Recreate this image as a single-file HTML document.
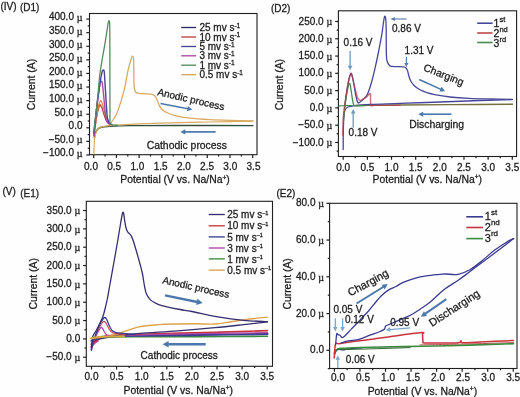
<!DOCTYPE html>
<html><head><meta charset="utf-8"><style>
html,body{margin:0;padding:0;background:#fff;}
body{width:520px;height:397px;overflow:hidden;}
svg{display:block;filter:blur(0.3px);}
text{font-family:"Liberation Sans", sans-serif;stroke:#1c1c1c;stroke-width:0.28px;}
</style></head><body>
<svg width="520" height="397" viewBox="0 0 520 397">
<rect width="520" height="397" fill="#fefefe"/>
<text x="0" y="0" font-size="10.00" text-anchor="start" fill="#1c1c1c" transform="translate(0.50 10.00)">(IV)</text>
<text x="0" y="0" font-size="10.00" text-anchor="start" fill="#1c1c1c" transform="translate(20.00 11.10)">(D1)</text>
<rect x="89.50" y="13.50" width="167.50" height="141.20" fill="none" stroke="#1e1e1e" stroke-width="1.1"/>
<line x1="86.30" y1="154.98" x2="89.50" y2="154.98" stroke="#1e1e1e" stroke-width="1.20"/>
<line x1="86.30" y1="141.39" x2="89.50" y2="141.39" stroke="#1e1e1e" stroke-width="1.20"/>
<line x1="86.30" y1="127.80" x2="89.50" y2="127.80" stroke="#1e1e1e" stroke-width="1.20"/>
<line x1="86.30" y1="114.21" x2="89.50" y2="114.21" stroke="#1e1e1e" stroke-width="1.20"/>
<line x1="86.30" y1="100.62" x2="89.50" y2="100.62" stroke="#1e1e1e" stroke-width="1.20"/>
<line x1="86.30" y1="87.03" x2="89.50" y2="87.03" stroke="#1e1e1e" stroke-width="1.20"/>
<line x1="86.30" y1="73.44" x2="89.50" y2="73.44" stroke="#1e1e1e" stroke-width="1.20"/>
<line x1="86.30" y1="59.85" x2="89.50" y2="59.85" stroke="#1e1e1e" stroke-width="1.20"/>
<line x1="86.30" y1="46.26" x2="89.50" y2="46.26" stroke="#1e1e1e" stroke-width="1.20"/>
<line x1="86.30" y1="32.67" x2="89.50" y2="32.67" stroke="#1e1e1e" stroke-width="1.20"/>
<line x1="86.30" y1="19.08" x2="89.50" y2="19.08" stroke="#1e1e1e" stroke-width="1.20"/>
<line x1="87.70" y1="148.19" x2="89.50" y2="148.19" stroke="#1e1e1e" stroke-width="1.20"/>
<line x1="87.70" y1="134.59" x2="89.50" y2="134.59" stroke="#1e1e1e" stroke-width="1.20"/>
<line x1="87.70" y1="121.00" x2="89.50" y2="121.00" stroke="#1e1e1e" stroke-width="1.20"/>
<line x1="87.70" y1="107.41" x2="89.50" y2="107.41" stroke="#1e1e1e" stroke-width="1.20"/>
<line x1="87.70" y1="93.82" x2="89.50" y2="93.82" stroke="#1e1e1e" stroke-width="1.20"/>
<line x1="87.70" y1="80.23" x2="89.50" y2="80.23" stroke="#1e1e1e" stroke-width="1.20"/>
<line x1="87.70" y1="66.65" x2="89.50" y2="66.65" stroke="#1e1e1e" stroke-width="1.20"/>
<line x1="87.70" y1="53.06" x2="89.50" y2="53.06" stroke="#1e1e1e" stroke-width="1.20"/>
<line x1="87.70" y1="39.47" x2="89.50" y2="39.47" stroke="#1e1e1e" stroke-width="1.20"/>
<line x1="87.70" y1="25.88" x2="89.50" y2="25.88" stroke="#1e1e1e" stroke-width="1.20"/>
<line x1="93.70" y1="154.70" x2="93.70" y2="157.90" stroke="#1e1e1e" stroke-width="1.20"/>
<line x1="116.42" y1="154.70" x2="116.42" y2="157.90" stroke="#1e1e1e" stroke-width="1.20"/>
<line x1="139.13" y1="154.70" x2="139.13" y2="157.90" stroke="#1e1e1e" stroke-width="1.20"/>
<line x1="161.84" y1="154.70" x2="161.84" y2="157.90" stroke="#1e1e1e" stroke-width="1.20"/>
<line x1="184.56" y1="154.70" x2="184.56" y2="157.90" stroke="#1e1e1e" stroke-width="1.20"/>
<line x1="207.28" y1="154.70" x2="207.28" y2="157.90" stroke="#1e1e1e" stroke-width="1.20"/>
<line x1="229.99" y1="154.70" x2="229.99" y2="157.90" stroke="#1e1e1e" stroke-width="1.20"/>
<line x1="252.70" y1="154.70" x2="252.70" y2="157.90" stroke="#1e1e1e" stroke-width="1.20"/>
<line x1="105.06" y1="154.70" x2="105.06" y2="156.50" stroke="#1e1e1e" stroke-width="1.20"/>
<line x1="127.77" y1="154.70" x2="127.77" y2="156.50" stroke="#1e1e1e" stroke-width="1.20"/>
<line x1="150.49" y1="154.70" x2="150.49" y2="156.50" stroke="#1e1e1e" stroke-width="1.20"/>
<line x1="173.20" y1="154.70" x2="173.20" y2="156.50" stroke="#1e1e1e" stroke-width="1.20"/>
<line x1="195.92" y1="154.70" x2="195.92" y2="156.50" stroke="#1e1e1e" stroke-width="1.20"/>
<line x1="218.63" y1="154.70" x2="218.63" y2="156.50" stroke="#1e1e1e" stroke-width="1.20"/>
<line x1="241.35" y1="154.70" x2="241.35" y2="156.50" stroke="#1e1e1e" stroke-width="1.20"/>
<text x="0" y="0" font-size="10.00" text-anchor="end" fill="#1c1c1c" transform="translate(82.50 156.38)">−100.0 <tspan font-family="Liberation Serif, serif" dy="0.7">µ</tspan></text>
<text x="0" y="0" font-size="10.00" text-anchor="end" fill="#1c1c1c" transform="translate(82.50 142.79)">−50.0 <tspan font-family="Liberation Serif, serif" dy="0.7">µ</tspan></text>
<text x="0" y="0" font-size="10.00" text-anchor="end" fill="#1c1c1c" transform="translate(82.50 129.20)">0.0</text>
<text x="0" y="0" font-size="10.00" text-anchor="end" fill="#1c1c1c" transform="translate(82.50 115.61)">50.0 <tspan font-family="Liberation Serif, serif" dy="0.7">µ</tspan></text>
<text x="0" y="0" font-size="10.00" text-anchor="end" fill="#1c1c1c" transform="translate(82.50 102.02)">100.0 <tspan font-family="Liberation Serif, serif" dy="0.7">µ</tspan></text>
<text x="0" y="0" font-size="10.00" text-anchor="end" fill="#1c1c1c" transform="translate(82.50 88.43)">150.0 <tspan font-family="Liberation Serif, serif" dy="0.7">µ</tspan></text>
<text x="0" y="0" font-size="10.00" text-anchor="end" fill="#1c1c1c" transform="translate(82.50 74.84)">200.0 <tspan font-family="Liberation Serif, serif" dy="0.7">µ</tspan></text>
<text x="0" y="0" font-size="10.00" text-anchor="end" fill="#1c1c1c" transform="translate(82.50 61.25)">250.0 <tspan font-family="Liberation Serif, serif" dy="0.7">µ</tspan></text>
<text x="0" y="0" font-size="10.00" text-anchor="end" fill="#1c1c1c" transform="translate(82.50 47.66)">300.0 <tspan font-family="Liberation Serif, serif" dy="0.7">µ</tspan></text>
<text x="0" y="0" font-size="10.00" text-anchor="end" fill="#1c1c1c" transform="translate(82.50 34.07)">350.0 <tspan font-family="Liberation Serif, serif" dy="0.7">µ</tspan></text>
<text x="0" y="0" font-size="10.00" text-anchor="end" fill="#1c1c1c" transform="translate(82.50 20.48)">400.0 <tspan font-family="Liberation Serif, serif" dy="0.7">µ</tspan></text>
<text x="0" y="0" font-size="10.00" text-anchor="middle" fill="#1c1c1c" transform="translate(91.00 170.20)">0.0</text>
<text x="0" y="0" font-size="10.00" text-anchor="middle" fill="#1c1c1c" transform="translate(114.22 170.20)">0.5</text>
<text x="0" y="0" font-size="10.00" text-anchor="middle" fill="#1c1c1c" transform="translate(137.43 170.20)">1.0</text>
<text x="0" y="0" font-size="10.00" text-anchor="middle" fill="#1c1c1c" transform="translate(160.64 170.20)">1.5</text>
<text x="0" y="0" font-size="10.00" text-anchor="middle" fill="#1c1c1c" transform="translate(183.86 170.20)">2.0</text>
<text x="0" y="0" font-size="10.00" text-anchor="middle" fill="#1c1c1c" transform="translate(207.07 170.20)">2.5</text>
<text x="0" y="0" font-size="10.00" text-anchor="middle" fill="#1c1c1c" transform="translate(230.29 170.20)">3.0</text>
<text x="0" y="0" font-size="10.00" text-anchor="middle" fill="#1c1c1c" transform="translate(253.50 170.20)">3.5</text>
<text x="0" y="0" font-size="10.40" text-anchor="middle" fill="#1c1c1c" transform="translate(175.00 183.00)">Potential (V vs. Na/Na<tspan font-size="6.5" dy="-3.5">+</tspan><tspan dy="3.5">)</tspan></text>
<text x="0" y="0" font-size="10.40" text-anchor="middle" fill="#1c1c1c" transform="translate(35.30 84.60) rotate(-90.00)">Current (A)</text>
<path d="M253.00,125.60 C240.83,125.58 200.50,125.50 180.00,125.50 C159.50,125.50 141.67,125.48 130.00,125.60 C118.33,125.72 114.83,125.92 110.00,126.20 C105.17,126.48 103.08,126.75 101.00,127.30 C98.92,127.85 98.42,128.55 97.50,129.50 C96.58,130.45 96.03,131.58 95.50,133.00 C94.97,134.42 94.50,137.17 94.30,138.00" fill="none" stroke="#2f4f3c" stroke-width="1.40" stroke-linejoin="round" stroke-linecap="round" opacity="1.00"/>
<path d="M111.00,122.50 C111.50,121.83 112.83,120.52 114.00,118.50 C115.17,116.48 116.32,115.10 118.00,110.40 C119.68,105.70 122.42,97.02 124.10,90.30 C125.78,83.58 126.90,75.40 128.10,70.10 C129.30,64.80 130.55,60.82 131.30,58.50 C132.05,56.18 132.23,56.20 132.60,56.20 C132.97,56.20 133.30,56.87 133.50,58.50 C133.70,60.13 133.73,62.42 133.80,66.00 C133.87,69.58 133.82,76.33 133.90,80.00 C133.98,83.67 134.02,86.00 134.30,88.00 C134.58,90.00 134.90,91.10 135.60,92.00 C136.30,92.90 136.77,93.10 138.50,93.40 C140.23,93.70 143.75,93.65 146.00,93.80 C148.25,93.95 150.50,93.93 152.00,94.30 C153.50,94.67 154.12,95.00 155.00,96.00 C155.88,97.00 156.58,98.73 157.30,100.30 C158.02,101.87 158.52,103.87 159.30,105.40 C160.08,106.93 160.82,108.33 162.00,109.50 C163.18,110.67 164.23,111.38 166.40,112.40 C168.57,113.42 171.07,114.63 175.00,115.60 C178.93,116.57 184.17,117.52 190.00,118.20 C195.83,118.88 203.33,119.33 210.00,119.70 C216.67,120.07 222.83,120.22 230.00,120.40 C237.17,120.58 249.17,120.73 253.00,120.80" fill="none" stroke="#d9aa60" stroke-width="1.30" stroke-linejoin="round" stroke-linecap="round" opacity="1.00"/>
<path d="M253.00,121.20 C249.17,121.27 238.83,121.43 230.00,121.60 C221.17,121.77 210.00,122.00 200.00,122.20 C190.00,122.40 178.33,122.58 170.00,122.80 C161.67,123.02 157.50,123.20 150.00,123.50 C142.50,123.80 131.33,124.28 125.00,124.60 C118.67,124.92 115.50,125.12 112.00,125.40 C108.50,125.68 106.17,125.87 104.00,126.30 C101.83,126.73 100.30,127.05 99.00,128.00 C97.70,128.95 96.93,130.33 96.20,132.00 C95.47,133.67 94.95,135.67 94.60,138.00 C94.25,140.33 94.22,143.33 94.10,146.00 C93.98,148.67 93.93,152.67 93.90,154.00" fill="none" stroke="#d9aa60" stroke-width="1.20" stroke-linejoin="round" stroke-linecap="round" opacity="1.00"/>
<path d="M94.00,135.00 C94.25,133.17 94.92,127.83 95.50,124.00 C96.08,120.17 96.82,115.08 97.50,112.00 C98.18,108.92 99.08,106.63 99.60,105.50 C100.12,104.37 100.20,104.78 100.60,105.20 C101.00,105.62 101.43,106.45 102.00,108.00 C102.57,109.55 103.33,112.50 104.00,114.50 C104.67,116.50 105.33,118.58 106.00,120.00 C106.67,121.42 107.33,122.25 108.00,123.00 C108.67,123.75 109.67,124.25 110.00,124.50" fill="none" stroke="#c04448" stroke-width="1.40" stroke-linejoin="round" stroke-linecap="round" opacity="1.00"/>
<path d="M94.30,132.00 C94.58,130.17 95.30,125.33 96.00,121.00 C96.70,116.67 97.78,109.33 98.50,106.00 C99.22,102.67 99.80,101.75 100.30,101.00 C100.80,100.25 101.05,100.67 101.50,101.50 C101.95,102.33 102.42,104.00 103.00,106.00 C103.58,108.00 104.33,111.25 105.00,113.50 C105.67,115.75 106.25,117.83 107.00,119.50 C107.75,121.17 109.08,122.83 109.50,123.50" fill="none" stroke="#da824a" stroke-width="1.20" stroke-linejoin="round" stroke-linecap="round" opacity="1.00"/>
<path d="M93.90,136.00 C94.17,133.33 94.90,125.67 95.50,120.00 C96.10,114.33 96.78,107.83 97.50,102.00 C98.22,96.17 99.20,88.45 99.80,85.00 C100.40,81.55 100.67,81.47 101.10,81.30 C101.53,81.13 101.90,80.85 102.40,84.00 C102.90,87.15 103.57,94.87 104.10,100.20 C104.63,105.53 105.12,112.50 105.60,116.00 C106.08,119.50 106.48,120.00 107.00,121.20 C107.52,122.40 108.12,122.73 108.70,123.20 C109.28,123.67 110.20,123.87 110.50,124.00" fill="none" stroke="#ad48a0" stroke-width="1.40" stroke-linejoin="round" stroke-linecap="round" opacity="1.00"/>
<path d="M93.90,133.00 C94.22,130.00 95.12,121.00 95.80,115.00 C96.48,109.00 97.22,102.83 98.00,97.00 C98.78,91.17 99.80,84.25 100.50,80.00 C101.20,75.75 101.73,73.13 102.20,71.50 C102.67,69.87 102.95,70.03 103.30,70.20 C103.65,70.37 103.92,68.75 104.30,72.50 C104.68,76.25 105.13,85.55 105.60,92.70 C106.07,99.85 106.65,110.72 107.10,115.40 C107.55,120.08 107.88,119.43 108.30,120.80 C108.72,122.17 108.98,122.97 109.60,123.60 C110.22,124.23 111.60,124.43 112.00,124.60" fill="none" stroke="#45459a" stroke-width="1.40" stroke-linejoin="round" stroke-linecap="round" opacity="1.00"/>
<path d="M93.90,131.00 C94.17,128.83 94.85,123.83 95.50,118.00 C96.15,112.17 97.07,103.33 97.80,96.00 C98.53,88.67 99.13,80.33 99.90,74.00 C100.67,67.67 101.57,62.97 102.40,58.00 C103.23,53.03 104.08,49.12 104.90,44.20 C105.72,39.28 106.70,32.28 107.30,28.50 C107.90,24.72 108.17,22.75 108.50,21.50 C108.83,20.25 109.10,20.58 109.30,21.00 C109.50,21.42 109.61,20.83 109.70,24.00 C109.79,27.17 109.82,37.33 109.85,40.00 L109.95,123.50 C110.29,123.73 110.66,124.60 112.00,124.90 C113.34,125.20 117.00,125.23 118.00,125.30" fill="none" stroke="#568c5c" stroke-width="1.30" stroke-linejoin="round" stroke-linecap="round" opacity="1.00"/>
<line x1="181.20" y1="27.50" x2="196.00" y2="27.50" stroke="#2f2b6b" stroke-width="1.35"/>
<text x="0" y="0" font-size="10.00" text-anchor="start" fill="#1c1c1c" transform="translate(199.40 31.10)">25 mv s<tspan font-size="6.5" dy="-3.6">-1</tspan></text>
<line x1="181.20" y1="37.00" x2="196.00" y2="37.00" stroke="#c04448" stroke-width="1.35"/>
<text x="0" y="0" font-size="10.00" text-anchor="start" fill="#1c1c1c" transform="translate(199.40 40.60)">10 mv s<tspan font-size="6.5" dy="-3.6">-1</tspan></text>
<line x1="181.20" y1="46.50" x2="196.00" y2="46.50" stroke="#45459a" stroke-width="1.35"/>
<text x="0" y="0" font-size="10.00" text-anchor="start" fill="#1c1c1c" transform="translate(199.40 50.10)">5 mv s<tspan font-size="6.5" dy="-3.6">-1</tspan></text>
<line x1="181.20" y1="55.80" x2="196.00" y2="55.80" stroke="#ad48a0" stroke-width="1.35"/>
<text x="0" y="0" font-size="10.00" text-anchor="start" fill="#1c1c1c" transform="translate(199.40 59.40)">3 mv s<tspan font-size="6.5" dy="-3.6">-1</tspan></text>
<line x1="181.20" y1="65.20" x2="196.00" y2="65.20" stroke="#568c5c" stroke-width="1.35"/>
<text x="0" y="0" font-size="10.00" text-anchor="start" fill="#1c1c1c" transform="translate(199.40 68.80)">1 mv s<tspan font-size="6.5" dy="-3.6">-1</tspan></text>
<line x1="181.20" y1="74.70" x2="196.00" y2="74.70" stroke="#d9aa60" stroke-width="1.35"/>
<text x="0" y="0" font-size="10.00" text-anchor="start" fill="#1c1c1c" transform="translate(199.40 78.30)">0.5 mv s<tspan font-size="6.5" dy="-3.6">-1</tspan></text>
<text x="0" y="0" font-size="10.00" text-anchor="start" fill="#1c1c1c" transform="translate(157.00 95.00) rotate(13.00)">Anodic process</text>
<line x1="160.50" y1="103.50" x2="187.88" y2="108.75" stroke="#4b77ad" stroke-width="1.70"/>
<polygon points="192.30,109.60 186.90,111.21 187.88,106.10" fill="#4b77ad"/>
<line x1="215.60" y1="131.90" x2="184.80" y2="131.90" stroke="#4b77ad" stroke-width="1.70"/>
<polygon points="180.30,131.90 185.30,129.30 185.30,134.50" fill="#4b77ad"/>
<text x="0" y="0" font-size="10.40" text-anchor="start" fill="#1c1c1c" transform="translate(146.70 149.30)">Cathodic process</text>
<text x="0" y="0" font-size="10.00" text-anchor="start" fill="#1c1c1c" transform="translate(271.00 11.50)">(D2)</text>
<rect x="338.40" y="10.80" width="178.20" height="145.70" fill="none" stroke="#1e1e1e" stroke-width="1.1"/>
<line x1="335.20" y1="142.46" x2="338.40" y2="142.46" stroke="#1e1e1e" stroke-width="1.20"/>
<line x1="335.20" y1="125.18" x2="338.40" y2="125.18" stroke="#1e1e1e" stroke-width="1.20"/>
<line x1="335.20" y1="107.90" x2="338.40" y2="107.90" stroke="#1e1e1e" stroke-width="1.20"/>
<line x1="335.20" y1="90.62" x2="338.40" y2="90.62" stroke="#1e1e1e" stroke-width="1.20"/>
<line x1="335.20" y1="73.34" x2="338.40" y2="73.34" stroke="#1e1e1e" stroke-width="1.20"/>
<line x1="335.20" y1="56.06" x2="338.40" y2="56.06" stroke="#1e1e1e" stroke-width="1.20"/>
<line x1="335.20" y1="38.78" x2="338.40" y2="38.78" stroke="#1e1e1e" stroke-width="1.20"/>
<line x1="335.20" y1="21.50" x2="338.40" y2="21.50" stroke="#1e1e1e" stroke-width="1.20"/>
<line x1="336.60" y1="151.10" x2="338.40" y2="151.10" stroke="#1e1e1e" stroke-width="1.20"/>
<line x1="336.60" y1="133.82" x2="338.40" y2="133.82" stroke="#1e1e1e" stroke-width="1.20"/>
<line x1="336.60" y1="116.54" x2="338.40" y2="116.54" stroke="#1e1e1e" stroke-width="1.20"/>
<line x1="336.60" y1="99.26" x2="338.40" y2="99.26" stroke="#1e1e1e" stroke-width="1.20"/>
<line x1="336.60" y1="81.98" x2="338.40" y2="81.98" stroke="#1e1e1e" stroke-width="1.20"/>
<line x1="336.60" y1="64.70" x2="338.40" y2="64.70" stroke="#1e1e1e" stroke-width="1.20"/>
<line x1="336.60" y1="47.42" x2="338.40" y2="47.42" stroke="#1e1e1e" stroke-width="1.20"/>
<line x1="336.60" y1="30.14" x2="338.40" y2="30.14" stroke="#1e1e1e" stroke-width="1.20"/>
<line x1="343.20" y1="156.50" x2="343.20" y2="159.70" stroke="#1e1e1e" stroke-width="1.20"/>
<line x1="367.36" y1="156.50" x2="367.36" y2="159.70" stroke="#1e1e1e" stroke-width="1.20"/>
<line x1="391.51" y1="156.50" x2="391.51" y2="159.70" stroke="#1e1e1e" stroke-width="1.20"/>
<line x1="415.66" y1="156.50" x2="415.66" y2="159.70" stroke="#1e1e1e" stroke-width="1.20"/>
<line x1="439.82" y1="156.50" x2="439.82" y2="159.70" stroke="#1e1e1e" stroke-width="1.20"/>
<line x1="463.98" y1="156.50" x2="463.98" y2="159.70" stroke="#1e1e1e" stroke-width="1.20"/>
<line x1="488.13" y1="156.50" x2="488.13" y2="159.70" stroke="#1e1e1e" stroke-width="1.20"/>
<line x1="512.28" y1="156.50" x2="512.28" y2="159.70" stroke="#1e1e1e" stroke-width="1.20"/>
<line x1="355.28" y1="156.50" x2="355.28" y2="158.30" stroke="#1e1e1e" stroke-width="1.20"/>
<line x1="379.43" y1="156.50" x2="379.43" y2="158.30" stroke="#1e1e1e" stroke-width="1.20"/>
<line x1="403.59" y1="156.50" x2="403.59" y2="158.30" stroke="#1e1e1e" stroke-width="1.20"/>
<line x1="427.74" y1="156.50" x2="427.74" y2="158.30" stroke="#1e1e1e" stroke-width="1.20"/>
<line x1="451.90" y1="156.50" x2="451.90" y2="158.30" stroke="#1e1e1e" stroke-width="1.20"/>
<line x1="476.05" y1="156.50" x2="476.05" y2="158.30" stroke="#1e1e1e" stroke-width="1.20"/>
<line x1="500.21" y1="156.50" x2="500.21" y2="158.30" stroke="#1e1e1e" stroke-width="1.20"/>
<text x="0" y="0" font-size="10.00" text-anchor="end" fill="#1c1c1c" transform="translate(332.20 145.56)">−100.0 <tspan font-family="Liberation Serif, serif" dy="0.7">µ</tspan></text>
<text x="0" y="0" font-size="10.00" text-anchor="end" fill="#1c1c1c" transform="translate(332.20 128.28)">−50.0 <tspan font-family="Liberation Serif, serif" dy="0.7">µ</tspan></text>
<text x="0" y="0" font-size="10.00" text-anchor="end" fill="#1c1c1c" transform="translate(332.20 111.00)">0.0 <tspan font-family="Liberation Serif, serif" dy="0.7">µ</tspan></text>
<text x="0" y="0" font-size="10.00" text-anchor="end" fill="#1c1c1c" transform="translate(332.20 93.72)">50.0 <tspan font-family="Liberation Serif, serif" dy="0.7">µ</tspan></text>
<text x="0" y="0" font-size="10.00" text-anchor="end" fill="#1c1c1c" transform="translate(332.20 76.44)">100.0 <tspan font-family="Liberation Serif, serif" dy="0.7">µ</tspan></text>
<text x="0" y="0" font-size="10.00" text-anchor="end" fill="#1c1c1c" transform="translate(332.20 59.16)">150.0 <tspan font-family="Liberation Serif, serif" dy="0.7">µ</tspan></text>
<text x="0" y="0" font-size="10.00" text-anchor="end" fill="#1c1c1c" transform="translate(332.20 41.88)">200.0 <tspan font-family="Liberation Serif, serif" dy="0.7">µ</tspan></text>
<text x="0" y="0" font-size="10.00" text-anchor="end" fill="#1c1c1c" transform="translate(332.20 24.60)">250.0 <tspan font-family="Liberation Serif, serif" dy="0.7">µ</tspan></text>
<text x="0" y="0" font-size="10.00" text-anchor="middle" fill="#1c1c1c" transform="translate(343.20 170.60)">0.0</text>
<text x="0" y="0" font-size="10.00" text-anchor="middle" fill="#1c1c1c" transform="translate(367.36 170.60)">0.5</text>
<text x="0" y="0" font-size="10.00" text-anchor="middle" fill="#1c1c1c" transform="translate(391.51 170.60)">1.0</text>
<text x="0" y="0" font-size="10.00" text-anchor="middle" fill="#1c1c1c" transform="translate(415.66 170.60)">1.5</text>
<text x="0" y="0" font-size="10.00" text-anchor="middle" fill="#1c1c1c" transform="translate(439.82 170.60)">2.0</text>
<text x="0" y="0" font-size="10.00" text-anchor="middle" fill="#1c1c1c" transform="translate(463.98 170.60)">2.5</text>
<text x="0" y="0" font-size="10.00" text-anchor="middle" fill="#1c1c1c" transform="translate(488.13 170.60)">3.0</text>
<text x="0" y="0" font-size="10.00" text-anchor="middle" fill="#1c1c1c" transform="translate(512.28 170.60)">3.5</text>
<text x="0" y="0" font-size="10.40" text-anchor="middle" fill="#1c1c1c" transform="translate(427.30 182.50)">Potential (V vs. Na/Na<tspan font-size="6.5" dy="-3.5">+</tspan><tspan dy="3.5">)</tspan></text>
<text x="0" y="0" font-size="10.40" text-anchor="middle" fill="#1c1c1c" transform="translate(283.20 84.65) rotate(-90.00)">Current (A)</text>
<path d="M512.40,104.30 C502.00,104.35 468.73,104.48 450.00,104.60 C431.27,104.72 413.33,104.88 400.00,105.00 C386.67,105.12 377.33,105.22 370.00,105.30 C362.67,105.38 358.33,105.47 356.00,105.50" fill="none" stroke="#75703a" stroke-width="1.40" stroke-linejoin="round" stroke-linecap="round" opacity="1.00"/>
<path d="M512.40,99.60 C507.00,99.75 492.07,100.10 480.00,100.50 C467.93,100.90 453.33,101.52 440.00,102.00 C426.67,102.48 411.67,103.00 400.00,103.40 C388.33,103.80 377.50,104.03 370.00,104.40 C362.50,104.77 358.67,105.17 355.00,105.60 C351.33,106.03 349.67,106.27 348.00,107.00 C346.33,107.73 345.70,108.17 345.00,110.00 C344.30,111.83 344.08,114.33 343.80,118.00 C343.52,121.67 343.40,126.73 343.30,132.00 C343.20,137.27 343.22,146.67 343.20,149.60" fill="none" stroke="#47479a" stroke-width="1.30" stroke-linejoin="round" stroke-linecap="round" opacity="1.00"/>
<path d="M344.80,107.00 C345.08,104.67 345.83,97.50 346.50,93.00 C347.17,88.50 348.12,83.20 348.80,80.00 C349.48,76.80 350.10,74.72 350.60,73.80 C351.10,72.88 351.32,73.13 351.80,74.50 C352.28,75.87 352.88,78.75 353.50,82.00 C354.12,85.25 354.82,90.63 355.50,94.00 C356.18,97.37 356.93,100.78 357.60,102.20 C358.27,103.62 358.77,102.78 359.50,102.50 C360.23,102.22 361.00,101.38 362.00,100.50 C363.00,99.62 364.47,98.55 365.50,97.20 C366.53,95.85 367.18,94.93 368.20,92.40 C369.22,89.87 370.47,86.00 371.60,82.00 C372.73,78.00 373.87,73.32 375.00,68.40 C376.13,63.48 377.27,58.17 378.40,52.50 C379.53,46.83 380.93,39.57 381.80,34.40 C382.67,29.23 383.15,24.45 383.60,21.50 C384.05,18.55 384.20,17.45 384.50,16.70 C384.80,15.95 385.17,16.28 385.40,17.00 C385.63,17.72 385.77,18.83 385.90,21.00 C386.03,23.17 386.15,28.50 386.20,30.00 C386.23,34.17 386.23,49.75 386.40,55.00 C386.57,60.25 386.65,59.70 387.20,61.50 C387.75,63.30 388.90,64.98 389.70,65.80 C390.50,66.62 390.78,66.27 392.00,66.40 C393.22,66.53 395.08,66.52 397.00,66.60 C398.92,66.68 402.00,66.67 403.50,66.90 C405.00,67.13 405.33,67.40 406.00,68.00 C406.67,68.60 407.07,69.33 407.50,70.50 C407.93,71.67 408.10,73.33 408.60,75.00 C409.10,76.67 409.63,78.80 410.50,80.50 C411.37,82.20 412.22,83.65 413.80,85.20 C415.38,86.75 417.80,88.55 420.00,89.80 C422.20,91.05 424.57,91.88 427.00,92.70 C429.43,93.52 430.77,93.98 434.60,94.70 C438.43,95.42 444.27,96.38 450.00,97.00 C455.73,97.62 462.33,98.07 469.00,98.40 C475.67,98.73 482.77,98.85 490.00,99.00 C497.23,99.15 508.67,99.25 512.40,99.30" fill="none" stroke="#47479a" stroke-width="1.30" stroke-linejoin="round" stroke-linecap="round" opacity="1.00"/>
<path d="M343.30,122.00 C343.50,120.00 344.02,114.17 344.50,110.00 C344.98,105.83 345.55,101.08 346.20,97.00 C346.85,92.92 347.88,87.75 348.40,85.50 C348.92,83.25 349.00,83.62 349.30,83.50 C349.60,83.38 349.83,83.22 350.20,84.80 C350.57,86.38 351.08,90.30 351.50,93.00 C351.92,95.70 352.32,99.00 352.70,101.00 C353.08,103.00 353.25,104.20 353.80,105.00 C354.35,105.80 354.13,105.70 356.00,105.80 C357.87,105.90 363.50,105.63 365.00,105.60" fill="none" stroke="#4a8a50" stroke-width="1.30" stroke-linejoin="round" stroke-linecap="round" opacity="1.00"/>
<path d="M342.80,135.00 C342.88,132.17 343.02,122.83 343.30,118.00 C343.58,113.17 343.97,110.17 344.50,106.00 C345.03,101.83 345.78,97.33 346.50,93.00 C347.22,88.67 348.13,83.08 348.80,80.00 C349.47,76.92 350.02,75.33 350.50,74.50 C350.98,73.67 351.20,73.75 351.70,75.00 C352.20,76.25 352.87,79.43 353.50,82.00 C354.13,84.57 354.83,87.82 355.50,90.40 C356.17,92.98 356.75,95.85 357.50,97.50 C358.25,99.15 359.08,100.02 360.00,100.30 C360.92,100.58 361.90,99.75 363.00,99.20 C364.10,98.65 365.47,97.93 366.60,97.00 C367.73,96.07 369.13,94.02 369.80,93.60 C370.47,93.18 370.47,94.35 370.60,94.50 C370.65,96.22 370.17,102.98 370.90,104.80 C371.63,106.62 370.15,105.32 375.00,105.40 C379.85,105.48 395.83,105.32 400.00,105.30" fill="none" stroke="#b33a48" stroke-width="1.40" stroke-linejoin="round" stroke-linecap="round" opacity="0.72"/>
<path d="M339.20,105.90 C340.17,105.87 342.87,105.77 345.00,105.70 C347.13,105.63 350.83,105.53 352.00,105.50" fill="none" stroke="#4a8a50" stroke-width="1.20" stroke-linejoin="round" stroke-linecap="round" opacity="1.00"/>
<line x1="477.20" y1="23.20" x2="492.60" y2="23.20" stroke="#47479a" stroke-width="1.60"/>
<line x1="477.20" y1="33.00" x2="492.60" y2="33.00" stroke="#c24646" stroke-width="1.60"/>
<line x1="477.20" y1="42.50" x2="492.60" y2="42.50" stroke="#4a8a50" stroke-width="1.60"/>
<text x="0" y="0" font-size="10.50" text-anchor="start" fill="#1c1c1c" transform="translate(493.60 27.30)">1<tspan font-size="7.5" dy="-5.0">st</tspan></text>
<text x="0" y="0" font-size="10.50" text-anchor="start" fill="#1c1c1c" transform="translate(493.60 37.00)">2<tspan font-size="7.5" dy="-5.0">nd</tspan></text>
<text x="0" y="0" font-size="10.50" text-anchor="start" fill="#1c1c1c" transform="translate(493.60 46.60)">3<tspan font-size="7.5" dy="-5.0">rd</tspan></text>
<text x="0" y="0" font-size="10.00" text-anchor="start" fill="#1c1c1c" transform="translate(343.60 45.80)">0.16 V</text>
<text x="0" y="0" font-size="10.00" text-anchor="start" fill="#1c1c1c" transform="translate(392.00 32.30)">0.86 V</text>
<text x="0" y="0" font-size="10.00" text-anchor="start" fill="#1c1c1c" transform="translate(404.60 53.50)">1.31 V</text>
<text x="0" y="0" font-size="10.00" text-anchor="start" fill="#1c1c1c" transform="translate(348.60 135.90)">0.18 V</text>
<line x1="350.10" y1="51.00" x2="350.10" y2="66.20" stroke="#6f98c0" stroke-width="1.30"/>
<polygon points="350.10,70.20 347.80,65.70 352.40,65.70" fill="#6f98c0"/>
<line x1="406.40" y1="19.00" x2="394.30" y2="19.00" stroke="#5878a8" stroke-width="1.10"/>
<polygon points="390.60,19.00 394.80,17.00 394.80,21.00" fill="#5878a8"/>
<line x1="406.40" y1="56.70" x2="406.40" y2="63.60" stroke="#5878a8" stroke-width="1.10"/>
<polygon points="406.40,67.30 404.40,63.10 408.40,63.10" fill="#5878a8"/>
<line x1="353.20" y1="127.80" x2="353.20" y2="112.90" stroke="#6f98c0" stroke-width="1.30"/>
<polygon points="353.20,108.90 355.50,113.40 350.90,113.40" fill="#6f98c0"/>
<text x="0" y="0" font-size="10.40" text-anchor="start" fill="#1c1c1c" transform="translate(422.80 70.30) rotate(21.50)">Charging</text>
<line x1="419.20" y1="79.60" x2="440.99" y2="89.36" stroke="#4b77ad" stroke-width="1.60"/>
<polygon points="445.10,91.20 439.51,91.44 441.56,86.87" fill="#4b77ad"/>
<line x1="451.50" y1="114.20" x2="422.70" y2="114.20" stroke="#4b77ad" stroke-width="1.60"/>
<polygon points="418.20,114.20 423.20,111.70 423.20,116.70" fill="#4b77ad"/>
<text x="0" y="0" font-size="10.40" text-anchor="start" fill="#1c1c1c" transform="translate(409.20 127.60)">Discharging</text>
<text x="0" y="0" font-size="10.00" text-anchor="start" fill="#1c1c1c" transform="translate(2.50 195.10)">(V)</text>
<text x="0" y="0" font-size="10.00" text-anchor="start" fill="#1c1c1c" transform="translate(20.20 196.80)">(E1)</text>
<rect x="86.30" y="201.30" width="186.20" height="165.00" fill="none" stroke="#1e1e1e" stroke-width="1.1"/>
<line x1="83.10" y1="357.24" x2="86.30" y2="357.24" stroke="#1e1e1e" stroke-width="1.20"/>
<line x1="83.10" y1="338.90" x2="86.30" y2="338.90" stroke="#1e1e1e" stroke-width="1.20"/>
<line x1="83.10" y1="320.56" x2="86.30" y2="320.56" stroke="#1e1e1e" stroke-width="1.20"/>
<line x1="83.10" y1="302.22" x2="86.30" y2="302.22" stroke="#1e1e1e" stroke-width="1.20"/>
<line x1="83.10" y1="283.88" x2="86.30" y2="283.88" stroke="#1e1e1e" stroke-width="1.20"/>
<line x1="83.10" y1="265.54" x2="86.30" y2="265.54" stroke="#1e1e1e" stroke-width="1.20"/>
<line x1="83.10" y1="247.20" x2="86.30" y2="247.20" stroke="#1e1e1e" stroke-width="1.20"/>
<line x1="83.10" y1="228.86" x2="86.30" y2="228.86" stroke="#1e1e1e" stroke-width="1.20"/>
<line x1="83.10" y1="210.52" x2="86.30" y2="210.52" stroke="#1e1e1e" stroke-width="1.20"/>
<line x1="84.50" y1="348.07" x2="86.30" y2="348.07" stroke="#1e1e1e" stroke-width="1.20"/>
<line x1="84.50" y1="329.73" x2="86.30" y2="329.73" stroke="#1e1e1e" stroke-width="1.20"/>
<line x1="84.50" y1="311.39" x2="86.30" y2="311.39" stroke="#1e1e1e" stroke-width="1.20"/>
<line x1="84.50" y1="293.05" x2="86.30" y2="293.05" stroke="#1e1e1e" stroke-width="1.20"/>
<line x1="84.50" y1="274.71" x2="86.30" y2="274.71" stroke="#1e1e1e" stroke-width="1.20"/>
<line x1="84.50" y1="256.37" x2="86.30" y2="256.37" stroke="#1e1e1e" stroke-width="1.20"/>
<line x1="84.50" y1="238.03" x2="86.30" y2="238.03" stroke="#1e1e1e" stroke-width="1.20"/>
<line x1="84.50" y1="219.69" x2="86.30" y2="219.69" stroke="#1e1e1e" stroke-width="1.20"/>
<line x1="91.50" y1="366.30" x2="91.50" y2="369.50" stroke="#1e1e1e" stroke-width="1.20"/>
<line x1="116.60" y1="366.30" x2="116.60" y2="369.50" stroke="#1e1e1e" stroke-width="1.20"/>
<line x1="141.70" y1="366.30" x2="141.70" y2="369.50" stroke="#1e1e1e" stroke-width="1.20"/>
<line x1="166.80" y1="366.30" x2="166.80" y2="369.50" stroke="#1e1e1e" stroke-width="1.20"/>
<line x1="191.90" y1="366.30" x2="191.90" y2="369.50" stroke="#1e1e1e" stroke-width="1.20"/>
<line x1="217.00" y1="366.30" x2="217.00" y2="369.50" stroke="#1e1e1e" stroke-width="1.20"/>
<line x1="242.10" y1="366.30" x2="242.10" y2="369.50" stroke="#1e1e1e" stroke-width="1.20"/>
<line x1="267.20" y1="366.30" x2="267.20" y2="369.50" stroke="#1e1e1e" stroke-width="1.20"/>
<line x1="104.05" y1="366.30" x2="104.05" y2="368.10" stroke="#1e1e1e" stroke-width="1.20"/>
<line x1="129.15" y1="366.30" x2="129.15" y2="368.10" stroke="#1e1e1e" stroke-width="1.20"/>
<line x1="154.25" y1="366.30" x2="154.25" y2="368.10" stroke="#1e1e1e" stroke-width="1.20"/>
<line x1="179.35" y1="366.30" x2="179.35" y2="368.10" stroke="#1e1e1e" stroke-width="1.20"/>
<line x1="204.45" y1="366.30" x2="204.45" y2="368.10" stroke="#1e1e1e" stroke-width="1.20"/>
<line x1="229.55" y1="366.30" x2="229.55" y2="368.10" stroke="#1e1e1e" stroke-width="1.20"/>
<line x1="254.65" y1="366.30" x2="254.65" y2="368.10" stroke="#1e1e1e" stroke-width="1.20"/>
<text x="0" y="0" font-size="10.00" text-anchor="end" fill="#1c1c1c" transform="translate(80.20 360.34)">−50.0 <tspan font-family="Liberation Serif, serif" dy="0.7">µ</tspan></text>
<text x="0" y="0" font-size="10.00" text-anchor="end" fill="#1c1c1c" transform="translate(80.20 342.00)">0.0</text>
<text x="0" y="0" font-size="10.00" text-anchor="end" fill="#1c1c1c" transform="translate(80.20 323.66)">50.0 <tspan font-family="Liberation Serif, serif" dy="0.7">µ</tspan></text>
<text x="0" y="0" font-size="10.00" text-anchor="end" fill="#1c1c1c" transform="translate(80.20 305.32)">100.0 <tspan font-family="Liberation Serif, serif" dy="0.7">µ</tspan></text>
<text x="0" y="0" font-size="10.00" text-anchor="end" fill="#1c1c1c" transform="translate(80.20 286.98)">150.0 <tspan font-family="Liberation Serif, serif" dy="0.7">µ</tspan></text>
<text x="0" y="0" font-size="10.00" text-anchor="end" fill="#1c1c1c" transform="translate(80.20 268.64)">200.0 <tspan font-family="Liberation Serif, serif" dy="0.7">µ</tspan></text>
<text x="0" y="0" font-size="10.00" text-anchor="end" fill="#1c1c1c" transform="translate(80.20 250.30)">250.0 <tspan font-family="Liberation Serif, serif" dy="0.7">µ</tspan></text>
<text x="0" y="0" font-size="10.00" text-anchor="end" fill="#1c1c1c" transform="translate(80.20 231.96)">300.0 <tspan font-family="Liberation Serif, serif" dy="0.7">µ</tspan></text>
<text x="0" y="0" font-size="10.00" text-anchor="end" fill="#1c1c1c" transform="translate(80.20 213.62)">350.0 <tspan font-family="Liberation Serif, serif" dy="0.7">µ</tspan></text>
<text x="0" y="0" font-size="10.00" text-anchor="middle" fill="#1c1c1c" transform="translate(91.50 380.30)">0.0</text>
<text x="0" y="0" font-size="10.00" text-anchor="middle" fill="#1c1c1c" transform="translate(116.60 380.30)">0.5</text>
<text x="0" y="0" font-size="10.00" text-anchor="middle" fill="#1c1c1c" transform="translate(141.70 380.30)">1.0</text>
<text x="0" y="0" font-size="10.00" text-anchor="middle" fill="#1c1c1c" transform="translate(166.80 380.30)">1.5</text>
<text x="0" y="0" font-size="10.00" text-anchor="middle" fill="#1c1c1c" transform="translate(191.90 380.30)">2.0</text>
<text x="0" y="0" font-size="10.00" text-anchor="middle" fill="#1c1c1c" transform="translate(217.00 380.30)">2.5</text>
<text x="0" y="0" font-size="10.00" text-anchor="middle" fill="#1c1c1c" transform="translate(242.10 380.30)">3.0</text>
<text x="0" y="0" font-size="10.00" text-anchor="middle" fill="#1c1c1c" transform="translate(267.20 380.30)">3.5</text>
<text x="0" y="0" font-size="10.40" text-anchor="middle" fill="#1c1c1c" transform="translate(178.20 393.60)">Potential (V vs. Na/Na<tspan font-size="6.5" dy="-3.5">+</tspan><tspan dy="3.5">)</tspan></text>
<text x="0" y="0" font-size="10.40" text-anchor="middle" fill="#1c1c1c" transform="translate(37.00 283.80) rotate(-90.00)">Current (A)</text>
<path d="M92.00,340.50 C93.33,340.05 93.67,338.42 100.00,337.80 C106.33,337.18 113.33,337.00 130.00,336.80 C146.67,336.60 177.08,336.68 200.00,336.60 C222.92,336.52 256.25,336.35 267.50,336.30" fill="none" stroke="#3a8a40" stroke-width="1.60" stroke-linejoin="round" stroke-linecap="round" opacity="1.00"/>
<path d="M92.00,344.00 C92.67,343.17 93.00,340.30 96.00,339.00 C99.00,337.70 101.00,336.78 110.00,336.20 C119.00,335.62 132.50,335.75 150.00,335.50 C167.50,335.25 195.42,334.95 215.00,334.70 C234.58,334.45 258.75,334.12 267.50,334.00" fill="none" stroke="#3c3c96" stroke-width="2.20" stroke-linejoin="round" stroke-linecap="round" opacity="1.00"/>
<path d="M92.00,347.00 C92.83,345.75 94.00,341.42 97.00,339.50 C100.00,337.58 102.83,336.38 110.00,335.50 C117.17,334.62 122.50,334.73 140.00,334.20 C157.50,333.67 193.75,332.90 215.00,332.30 C236.25,331.70 258.75,330.88 267.50,330.60" fill="none" stroke="#c8343c" stroke-width="1.60" stroke-linejoin="round" stroke-linecap="round" opacity="1.00"/>
<path d="M92.00,345.00 C92.83,343.92 94.00,340.07 97.00,338.50 C100.00,336.93 101.17,336.25 110.00,335.60 C118.83,334.95 132.50,334.97 150.00,334.60 C167.50,334.23 195.42,333.72 215.00,333.40 C234.58,333.08 258.75,332.82 267.50,332.70" fill="none" stroke="#b046a4" stroke-width="1.30" stroke-linejoin="round" stroke-linecap="round" opacity="1.00"/>
<path d="M100.00,337.50 C101.33,337.32 104.67,337.15 108.00,336.40 C111.33,335.65 114.80,334.58 120.00,333.00 C125.20,331.42 132.78,328.30 139.20,326.90 C145.62,325.50 152.08,325.08 158.50,324.60 C164.92,324.12 171.30,324.13 177.70,324.00 C184.10,323.87 190.68,323.80 196.90,323.80 C203.12,323.80 209.48,324.30 215.00,324.00 C220.52,323.70 225.00,322.73 230.00,322.00 C235.00,321.27 238.75,320.42 245.00,319.60 C251.25,318.78 263.75,317.52 267.50,317.10" fill="none" stroke="#dea24a" stroke-width="1.40" stroke-linejoin="round" stroke-linecap="round" opacity="1.00"/>
<path d="M267.50,321.80 C263.55,322.27 252.55,323.62 243.80,324.60 C235.05,325.58 226.02,326.67 215.00,327.70 C203.98,328.73 190.20,329.87 177.70,330.80 C165.20,331.73 149.62,332.53 140.00,333.30 C130.38,334.07 125.83,334.65 120.00,335.40 C114.17,336.15 108.83,337.03 105.00,337.80 C101.17,338.57 99.00,339.13 97.00,340.00 C95.00,340.87 93.92,341.33 93.00,343.00 C92.08,344.67 91.75,348.83 91.50,350.00" fill="none" stroke="#35306f" stroke-width="1.30" stroke-linejoin="round" stroke-linecap="round" opacity="1.00"/>
<path d="M90.80,341.00 C91.33,340.87 92.80,340.50 94.00,340.20 C95.20,339.90 97.33,339.37 98.00,339.20" fill="none" stroke="#3c3c96" stroke-width="1.20" stroke-linejoin="round" stroke-linecap="round" opacity="1.00"/>
<path d="M90.80,344.20 C91.33,343.93 92.80,343.23 94.00,342.60 C95.20,341.97 97.33,340.77 98.00,340.40" fill="none" stroke="#c8343c" stroke-width="1.20" stroke-linejoin="round" stroke-linecap="round" opacity="1.00"/>
<path d="M90.80,346.80 C91.33,346.37 92.80,345.13 94.00,344.20 C95.20,343.27 97.33,341.70 98.00,341.20" fill="none" stroke="#b046a4" stroke-width="1.10" stroke-linejoin="round" stroke-linecap="round" opacity="1.00"/>
<path d="M91.50,349.00 C91.92,347.50 93.00,342.67 94.00,340.00 C95.00,337.33 96.38,335.05 97.50,333.00 C98.62,330.95 99.87,328.45 100.70,327.70 C101.53,326.95 101.87,327.78 102.50,328.50 C103.13,329.22 103.85,331.00 104.50,332.00 C105.15,333.00 105.48,333.87 106.40,334.50 C107.32,335.13 109.40,335.58 110.00,335.80" fill="none" stroke="#b046a4" stroke-width="1.30" stroke-linejoin="round" stroke-linecap="round" opacity="1.00"/>
<path d="M91.50,348.00 C92.08,346.17 93.75,340.33 95.00,337.00 C96.25,333.67 97.75,330.42 99.00,328.00 C100.25,325.58 101.65,323.60 102.50,322.50 C103.35,321.40 103.52,321.32 104.10,321.40 C104.68,321.48 105.27,321.90 106.00,323.00 C106.73,324.10 107.67,326.57 108.50,328.00 C109.33,329.43 109.92,330.70 111.00,331.60 C112.08,332.50 112.67,332.95 115.00,333.40 C117.33,333.85 123.33,334.15 125.00,334.30" fill="none" stroke="#cc4a50" stroke-width="1.20" stroke-linejoin="round" stroke-linecap="round" opacity="1.00"/>
<path d="M91.80,347.00 C92.42,345.00 94.13,338.83 95.50,335.00 C96.87,331.17 98.67,326.78 100.00,324.00 C101.33,321.22 102.72,319.38 103.50,318.30 C104.28,317.22 104.20,317.38 104.70,317.50 C105.20,317.62 105.78,317.75 106.50,319.00 C107.22,320.25 108.08,323.08 109.00,325.00 C109.92,326.92 110.83,329.23 112.00,330.50 C113.17,331.77 114.33,332.13 116.00,332.60 C117.67,333.07 118.83,333.03 122.00,333.30 C125.17,333.57 132.83,334.05 135.00,334.20" fill="none" stroke="#3c3c96" stroke-width="1.30" stroke-linejoin="round" stroke-linecap="round" opacity="1.00"/>
<path d="M91.30,350.00 C91.55,347.78 92.02,339.87 92.80,336.70 C93.58,333.53 94.80,333.28 96.00,331.00 C97.20,328.72 98.83,325.45 100.00,323.00 C101.17,320.55 102.08,318.97 103.00,316.30 C103.92,313.63 104.77,309.97 105.50,307.00 C106.23,304.03 106.62,302.50 107.40,298.50 C108.18,294.50 109.13,288.92 110.20,283.00 C111.27,277.08 112.58,269.83 113.80,263.00 C115.02,256.17 116.38,248.50 117.50,242.00 C118.62,235.50 119.72,228.58 120.50,224.00 C121.28,219.42 121.80,216.47 122.20,214.50 C122.60,212.53 122.65,212.37 122.90,212.20 C123.15,212.03 123.42,212.20 123.70,213.50 C123.98,214.80 124.25,217.75 124.60,220.00 C124.95,222.25 125.35,225.13 125.80,227.00 C126.25,228.87 126.72,230.10 127.30,231.20 C127.88,232.30 128.63,232.82 129.30,233.60 C129.97,234.38 130.63,234.67 131.30,235.90 C131.97,237.13 132.43,238.40 133.30,241.00 C134.17,243.60 135.38,247.67 136.50,251.50 C137.62,255.33 139.00,260.25 140.00,264.00 C141.00,267.75 141.78,270.50 142.50,274.00 C143.22,277.50 143.67,281.75 144.30,285.00 C144.93,288.25 145.32,291.07 146.30,293.50 C147.28,295.93 148.75,298.05 150.20,299.60 C151.65,301.15 153.58,301.97 155.00,302.80 C156.42,303.63 156.87,303.97 158.70,304.60 C160.53,305.23 162.45,305.78 166.00,306.60 C169.55,307.42 175.68,308.68 180.00,309.50 C184.32,310.32 185.58,310.28 191.90,311.50 C198.22,312.72 209.25,315.33 217.90,316.80 C226.55,318.27 235.58,319.48 243.80,320.30 C252.02,321.12 263.30,321.47 267.20,321.70" fill="none" stroke="#35306f" stroke-width="1.30" stroke-linejoin="round" stroke-linecap="round" opacity="1.00"/>
<path d="M91.00,338.40 C91.67,338.27 93.38,337.85 95.00,337.60 C96.62,337.35 97.87,337.08 100.70,336.90 C103.53,336.72 108.12,336.58 112.00,336.50 C115.88,336.42 122.00,336.42 124.00,336.40" fill="none" stroke="#d2a83e" stroke-width="2.10" stroke-linejoin="round" stroke-linecap="round" opacity="1.00"/>
<line x1="208.70" y1="214.50" x2="224.80" y2="214.50" stroke="#35306f" stroke-width="1.35"/>
<text x="0" y="0" font-size="10.00" text-anchor="start" fill="#1c1c1c" transform="translate(227.20 218.10)">25 mv s<tspan font-size="5.6" dy="-3.6">–1</tspan></text>
<line x1="208.70" y1="225.80" x2="224.80" y2="225.80" stroke="#c8343c" stroke-width="1.35"/>
<text x="0" y="0" font-size="10.00" text-anchor="start" fill="#1c1c1c" transform="translate(227.20 229.40)">10 mv s<tspan font-size="5.6" dy="-3.6">–1</tspan></text>
<line x1="208.70" y1="236.90" x2="224.80" y2="236.90" stroke="#3c3c96" stroke-width="1.35"/>
<text x="0" y="0" font-size="10.00" text-anchor="start" fill="#1c1c1c" transform="translate(227.20 240.50)">5 mv s<tspan font-size="5.6" dy="-3.6">–1</tspan></text>
<line x1="208.70" y1="248.00" x2="224.80" y2="248.00" stroke="#b046a4" stroke-width="1.35"/>
<text x="0" y="0" font-size="10.00" text-anchor="start" fill="#1c1c1c" transform="translate(227.20 251.60)">3 mv s<tspan font-size="5.6" dy="-3.6">–1</tspan></text>
<line x1="208.70" y1="258.90" x2="224.80" y2="258.90" stroke="#3a8a40" stroke-width="1.35"/>
<text x="0" y="0" font-size="10.00" text-anchor="start" fill="#1c1c1c" transform="translate(227.20 262.50)">1 mv s<tspan font-size="5.6" dy="-3.6">–1</tspan></text>
<line x1="208.70" y1="270.10" x2="224.80" y2="270.10" stroke="#dea24a" stroke-width="1.35"/>
<text x="0" y="0" font-size="10.00" text-anchor="start" fill="#1c1c1c" transform="translate(227.20 273.70)">0.5 mv s<tspan font-size="5.6" dy="-3.6">–1</tspan></text>
<text x="0" y="0" font-size="10.00" text-anchor="start" fill="#1c1c1c" transform="translate(161.90 283.20) rotate(12.60)">Anodic process</text>
<line x1="165.00" y1="295.40" x2="197.31" y2="302.00" stroke="#4b77ad" stroke-width="2.40"/>
<polygon points="202.70,303.10 196.18,305.03 197.46,298.76" fill="#4b77ad"/>
<line x1="205.70" y1="344.20" x2="168.10" y2="344.20" stroke="#4b77ad" stroke-width="2.40"/>
<polygon points="162.60,344.20 168.60,341.00 168.60,347.40" fill="#4b77ad"/>
<text x="0" y="0" font-size="10.00" text-anchor="start" fill="#1c1c1c" transform="translate(140.60 359.40)">Cathodic process</text>
<text x="0" y="0" font-size="10.00" text-anchor="start" fill="#1c1c1c" transform="translate(276.50 197.30)">(E2)</text>
<rect x="329.60" y="203.30" width="187.40" height="165.20" fill="none" stroke="#1e1e1e" stroke-width="1.1"/>
<line x1="326.40" y1="350.30" x2="329.60" y2="350.30" stroke="#1e1e1e" stroke-width="1.20"/>
<line x1="326.40" y1="313.55" x2="329.60" y2="313.55" stroke="#1e1e1e" stroke-width="1.20"/>
<line x1="326.40" y1="276.80" x2="329.60" y2="276.80" stroke="#1e1e1e" stroke-width="1.20"/>
<line x1="326.40" y1="240.05" x2="329.60" y2="240.05" stroke="#1e1e1e" stroke-width="1.20"/>
<line x1="326.40" y1="203.30" x2="329.60" y2="203.30" stroke="#1e1e1e" stroke-width="1.20"/>
<line x1="327.80" y1="368.68" x2="329.60" y2="368.68" stroke="#1e1e1e" stroke-width="1.20"/>
<line x1="327.80" y1="331.93" x2="329.60" y2="331.93" stroke="#1e1e1e" stroke-width="1.20"/>
<line x1="327.80" y1="295.18" x2="329.60" y2="295.18" stroke="#1e1e1e" stroke-width="1.20"/>
<line x1="327.80" y1="258.43" x2="329.60" y2="258.43" stroke="#1e1e1e" stroke-width="1.20"/>
<line x1="327.80" y1="221.68" x2="329.60" y2="221.68" stroke="#1e1e1e" stroke-width="1.20"/>
<line x1="334.40" y1="368.50" x2="334.40" y2="371.70" stroke="#1e1e1e" stroke-width="1.20"/>
<line x1="359.95" y1="368.50" x2="359.95" y2="371.70" stroke="#1e1e1e" stroke-width="1.20"/>
<line x1="385.50" y1="368.50" x2="385.50" y2="371.70" stroke="#1e1e1e" stroke-width="1.20"/>
<line x1="411.05" y1="368.50" x2="411.05" y2="371.70" stroke="#1e1e1e" stroke-width="1.20"/>
<line x1="436.60" y1="368.50" x2="436.60" y2="371.70" stroke="#1e1e1e" stroke-width="1.20"/>
<line x1="462.15" y1="368.50" x2="462.15" y2="371.70" stroke="#1e1e1e" stroke-width="1.20"/>
<line x1="487.70" y1="368.50" x2="487.70" y2="371.70" stroke="#1e1e1e" stroke-width="1.20"/>
<line x1="513.25" y1="368.50" x2="513.25" y2="371.70" stroke="#1e1e1e" stroke-width="1.20"/>
<line x1="347.17" y1="368.50" x2="347.17" y2="370.30" stroke="#1e1e1e" stroke-width="1.20"/>
<line x1="372.72" y1="368.50" x2="372.72" y2="370.30" stroke="#1e1e1e" stroke-width="1.20"/>
<line x1="398.27" y1="368.50" x2="398.27" y2="370.30" stroke="#1e1e1e" stroke-width="1.20"/>
<line x1="423.82" y1="368.50" x2="423.82" y2="370.30" stroke="#1e1e1e" stroke-width="1.20"/>
<line x1="449.38" y1="368.50" x2="449.38" y2="370.30" stroke="#1e1e1e" stroke-width="1.20"/>
<line x1="474.92" y1="368.50" x2="474.92" y2="370.30" stroke="#1e1e1e" stroke-width="1.20"/>
<line x1="500.48" y1="368.50" x2="500.48" y2="370.30" stroke="#1e1e1e" stroke-width="1.20"/>
<text x="0" y="0" font-size="10.00" text-anchor="end" fill="#1c1c1c" transform="translate(324.00 353.40)">0.0</text>
<text x="0" y="0" font-size="10.00" text-anchor="end" fill="#1c1c1c" transform="translate(324.00 316.65)">20.0 <tspan font-family="Liberation Serif, serif" dy="0.7">µ</tspan></text>
<text x="0" y="0" font-size="10.00" text-anchor="end" fill="#1c1c1c" transform="translate(324.00 279.90)">40.0 <tspan font-family="Liberation Serif, serif" dy="0.7">µ</tspan></text>
<text x="0" y="0" font-size="10.00" text-anchor="end" fill="#1c1c1c" transform="translate(324.00 243.15)">60.0 <tspan font-family="Liberation Serif, serif" dy="0.7">µ</tspan></text>
<text x="0" y="0" font-size="10.00" text-anchor="end" fill="#1c1c1c" transform="translate(324.00 206.40)">80.0 <tspan font-family="Liberation Serif, serif" dy="0.7">µ</tspan></text>
<text x="0" y="0" font-size="10.00" text-anchor="middle" fill="#1c1c1c" transform="translate(338.00 381.30)">0.0</text>
<text x="0" y="0" font-size="10.00" text-anchor="middle" fill="#1c1c1c" transform="translate(363.01 381.30)">0.5</text>
<text x="0" y="0" font-size="10.00" text-anchor="middle" fill="#1c1c1c" transform="translate(388.03 381.30)">1.0</text>
<text x="0" y="0" font-size="10.00" text-anchor="middle" fill="#1c1c1c" transform="translate(413.05 381.30)">1.5</text>
<text x="0" y="0" font-size="10.00" text-anchor="middle" fill="#1c1c1c" transform="translate(438.06 381.30)">2.0</text>
<text x="0" y="0" font-size="10.00" text-anchor="middle" fill="#1c1c1c" transform="translate(463.07 381.30)">2.5</text>
<text x="0" y="0" font-size="10.00" text-anchor="middle" fill="#1c1c1c" transform="translate(488.09 381.30)">3.0</text>
<text x="0" y="0" font-size="10.00" text-anchor="middle" fill="#1c1c1c" transform="translate(513.11 381.30)">3.5</text>
<text x="0" y="0" font-size="10.40" text-anchor="middle" fill="#1c1c1c" transform="translate(422.40 394.60)">Potential (V vs. Na/Na<tspan font-size="6.5" dy="-3.5">+</tspan><tspan dy="3.5">)</tspan></text>
<text x="0" y="0" font-size="10.40" text-anchor="middle" fill="#1c1c1c" transform="translate(290.60 283.90) rotate(-90.00)">Current (A)</text>
<path d="M420.00,344.90 C428.33,344.73 454.42,344.28 470.00,343.90 C485.58,343.52 506.25,342.82 513.50,342.60" fill="none" stroke="#c05050" stroke-width="1.00" stroke-linejoin="round" stroke-linecap="round" opacity="1.00"/>
<path d="M334.80,354.00 C335.08,353.42 335.88,351.40 336.50,350.50 C337.12,349.60 337.75,348.75 338.50,348.60 C339.25,348.45 340.08,349.40 341.00,349.60 C341.92,349.80 342.50,349.97 344.00,349.80 C345.50,349.63 347.00,348.93 350.00,348.60 C353.00,348.27 360.00,347.93 362.00,347.80" fill="none" stroke="#2e2e6e" stroke-width="1.20" stroke-linejoin="round" stroke-linecap="round" opacity="1.00"/>
<path d="M334.40,353.50 C334.67,353.00 335.23,351.32 336.00,350.50 C336.77,349.68 337.50,348.98 339.00,348.60 C340.50,348.22 339.83,348.43 345.00,348.20 C350.17,347.97 357.50,347.52 370.00,347.20 C382.50,346.88 403.33,346.65 420.00,346.30 C436.67,345.95 454.42,345.55 470.00,345.10 C485.58,344.65 506.25,343.85 513.50,343.60" fill="none" stroke="#3c8a40" stroke-width="1.60" stroke-linejoin="round" stroke-linecap="round" opacity="1.00"/>
<path d="M334.80,351.00 C335.17,350.80 334.47,350.07 337.00,349.80 C339.53,349.53 342.83,349.60 350.00,349.40 C357.17,349.20 370.00,348.90 380.00,348.60 C390.00,348.30 405.00,347.77 410.00,347.60" fill="none" stroke="#2f6a35" stroke-width="1.00" stroke-linejoin="round" stroke-linecap="round" opacity="1.00"/>
<path d="M334.20,358.00 C334.33,356.17 334.73,349.45 335.00,347.00 C335.27,344.55 335.30,343.87 335.80,343.30 C336.30,342.73 337.20,343.57 338.00,343.60 C338.80,343.63 338.60,343.77 340.60,343.50 C342.60,343.23 345.10,342.65 350.00,342.00 C354.90,341.35 362.50,340.60 370.00,339.60 C377.50,338.60 386.40,337.17 395.00,336.00 C403.60,334.83 417.02,333.02 421.60,332.60 C426.18,332.18 422.35,333.35 422.50,333.50 C422.58,334.78 422.67,339.63 423.00,341.20 C423.33,342.77 421.67,342.58 424.50,342.90 C427.33,343.22 434.42,343.12 440.00,343.10 C445.58,343.08 454.50,343.18 458.00,342.80 C461.50,342.42 460.25,340.80 461.00,340.80 C461.75,340.80 459.33,342.60 462.50,342.80 C465.67,343.00 471.50,342.37 480.00,342.00 C488.50,341.63 507.92,340.83 513.50,340.60" fill="none" stroke="#c8343c" stroke-width="1.50" stroke-linejoin="round" stroke-linecap="round" opacity="1.00"/>
<path d="M335.70,344.50 C335.78,343.42 336.00,339.82 336.20,338.00 C336.40,336.18 336.60,334.17 336.90,333.60 C337.20,333.03 337.48,334.32 338.00,334.60 C338.52,334.88 339.30,334.80 340.00,335.30 C340.70,335.80 341.37,337.52 342.20,337.60 C343.03,337.68 343.45,337.25 345.00,335.80 C346.55,334.35 349.50,330.98 351.50,328.90 C353.50,326.82 355.15,325.25 357.00,323.30 C358.85,321.35 360.72,319.20 362.60,317.20 C364.48,315.20 366.47,313.38 368.30,311.30 C370.13,309.22 371.47,307.25 373.60,304.70 C375.73,302.15 378.58,298.47 381.10,296.00 C383.62,293.53 386.22,291.48 388.70,289.90 C391.18,288.32 393.60,287.75 396.00,286.50 C398.40,285.25 400.00,283.77 403.10,282.40 C406.20,281.03 410.75,279.40 414.60,278.30 C418.45,277.20 421.97,276.45 426.20,275.80 C430.43,275.15 436.70,274.70 440.00,274.40 C443.30,274.10 442.97,274.02 446.00,274.00 C449.03,273.98 454.15,275.05 458.20,274.30 C462.25,273.55 466.28,271.80 470.30,269.50 C474.32,267.20 478.28,263.70 482.30,260.50 C486.32,257.30 490.37,253.35 494.40,250.30 C498.43,247.25 503.30,244.15 506.50,242.20 C509.70,240.25 512.42,239.20 513.60,238.60" fill="none" stroke="#3a3a92" stroke-width="1.30" stroke-linejoin="round" stroke-linecap="round" opacity="1.00"/>
<path d="M513.60,238.60 C510.40,241.05 499.62,249.35 494.40,253.30 C489.18,257.25 486.32,259.30 482.30,262.30 C478.28,265.30 474.32,268.30 470.30,271.30 C466.28,274.30 462.57,277.25 458.20,280.30 C453.83,283.35 448.75,285.98 444.10,289.60 C439.45,293.22 434.32,298.73 430.30,302.00 C426.28,305.27 423.33,306.98 420.00,309.20 C416.67,311.42 413.65,313.53 410.30,315.30 C406.95,317.07 403.25,318.35 399.90,319.80 C396.55,321.25 392.60,322.97 390.20,324.00 C387.80,325.03 386.28,325.67 385.50,326.00 C385.30,326.53 385.22,328.28 384.30,329.20 C383.38,330.12 382.38,330.50 380.00,331.50 C377.62,332.50 373.50,333.90 370.00,335.20 C366.50,336.50 362.33,338.40 359.00,339.30 C355.67,340.20 352.33,340.22 350.00,340.60 C347.67,340.98 346.50,341.17 345.00,341.60 C343.50,342.03 341.67,342.93 341.00,343.20" fill="none" stroke="#3a3a92" stroke-width="1.30" stroke-linejoin="round" stroke-linecap="round" opacity="1.00"/>
<line x1="466.30" y1="216.80" x2="483.00" y2="216.80" stroke="#3a3a92" stroke-width="1.60"/>
<line x1="466.30" y1="227.50" x2="483.00" y2="227.50" stroke="#c8343c" stroke-width="1.60"/>
<line x1="466.30" y1="238.60" x2="483.00" y2="238.60" stroke="#3c8a40" stroke-width="1.60"/>
<text x="0" y="0" font-size="11.00" text-anchor="start" fill="#1c1c1c" transform="translate(484.80 220.30) scale(1.000 0.950)">1<tspan font-size="8" dy="-5.6">st</tspan></text>
<text x="0" y="0" font-size="11.00" text-anchor="start" fill="#1c1c1c" transform="translate(484.80 230.70) scale(1.000 0.950)">2<tspan font-size="8" dy="-5.6">nd</tspan></text>
<text x="0" y="0" font-size="11.00" text-anchor="start" fill="#1c1c1c" transform="translate(484.80 241.50) scale(1.000 0.950)">3<tspan font-size="8" dy="-5.6">rd</tspan></text>
<text x="0" y="0" font-size="10.00" text-anchor="start" fill="#1c1c1c" transform="translate(333.40 313.40)">0.05 V</text>
<text x="0" y="0" font-size="10.00" text-anchor="start" fill="#1c1c1c" transform="translate(344.90 323.10)">0.12 V</text>
<text x="0" y="0" font-size="10.00" text-anchor="start" fill="#1c1c1c" transform="translate(390.20 325.60)">0.95 V</text>
<text x="0" y="0" font-size="10.00" text-anchor="start" fill="#1c1c1c" transform="translate(345.80 362.70)">0.06 V</text>
<line x1="335.30" y1="318.30" x2="335.30" y2="327.50" stroke="#79a6cc" stroke-width="1.30"/>
<polygon points="335.30,331.50 333.10,327.00 337.50,327.00" fill="#79a6cc"/>
<line x1="342.60" y1="318.30" x2="342.60" y2="327.50" stroke="#79a6cc" stroke-width="1.30"/>
<polygon points="342.60,331.50 340.40,327.00 344.80,327.00" fill="#79a6cc"/>
<line x1="337.80" y1="368.00" x2="337.80" y2="359.30" stroke="#79a6cc" stroke-width="1.30"/>
<polygon points="337.80,355.30 340.00,359.80 335.60,359.80" fill="#79a6cc"/>
<line x1="410.30" y1="327.90" x2="389.69" y2="329.58" stroke="#79a6cc" stroke-width="1.40"/>
<polygon points="385.70,329.90 390.01,327.34 390.36,331.73" fill="#79a6cc"/>
<text x="0" y="0" font-size="11.00" text-anchor="start" fill="#1c1c1c" transform="translate(350.20 296.60) rotate(-28.50)">Charging</text>
<line x1="356.60" y1="303.50" x2="383.55" y2="286.74" stroke="#4b77ad" stroke-width="2.00"/>
<polygon points="387.80,284.10 384.61,289.38 381.65,284.63" fill="#4b77ad"/>
<text x="0" y="0" font-size="11.00" text-anchor="start" fill="#1c1c1c" transform="translate(432.00 327.00) rotate(-33.00)">Discharging</text>
<line x1="446.40" y1="299.10" x2="425.02" y2="313.86" stroke="#4b77ad" stroke-width="2.00"/>
<polygon points="420.90,316.70 423.84,311.27 427.02,315.88" fill="#4b77ad"/>
</svg>
</body></html>
